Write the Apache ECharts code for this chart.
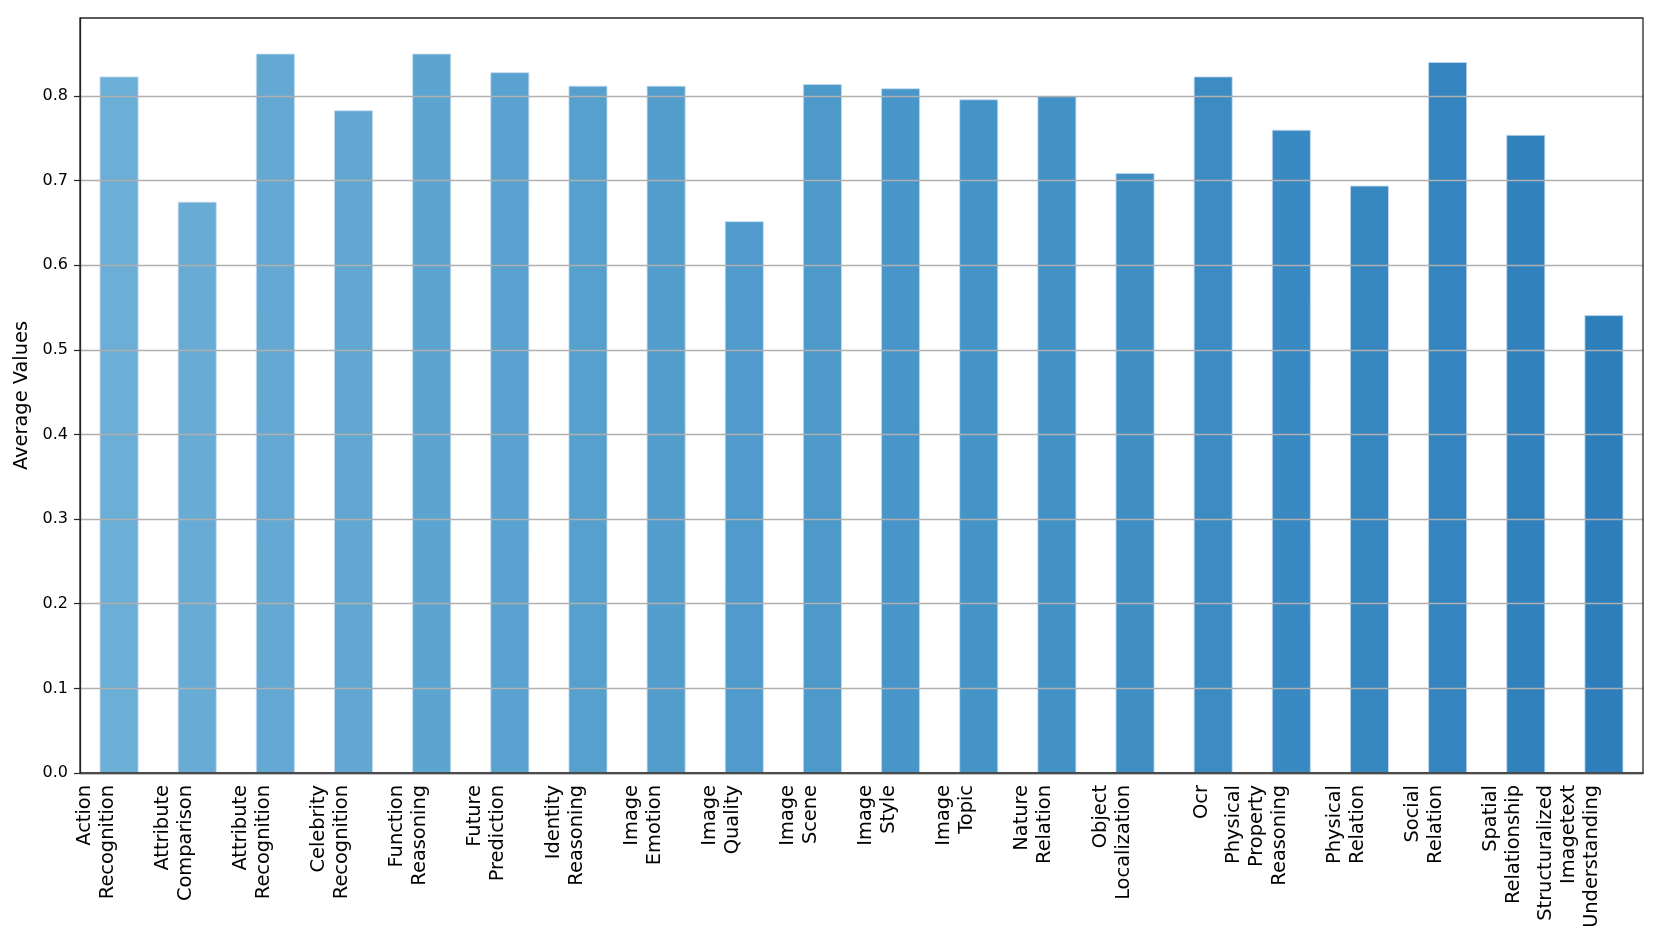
<!DOCTYPE html>
<html>
<head>
<meta charset="utf-8">
<title>Average Values</title>
<script src="https://cdn.jsdelivr.net/npm/echarts@6/dist/echarts.min.js"></script>
<style>
    html, body { margin: 0; padding: 0; background: #fff; }
    #echarts-bar-chart { width: 1661px; height: 949px; }
</style>
</head>
<body>
<div id="echarts-bar-chart"></div>
<script>
var categories = [
    'Action\nRecognition', 'Attribute\nComparison', 'Attribute\nRecognition', 'Celebrity\nRecognition',
    'Function\nReasoning', 'Future\nPrediction', 'Identity\nReasoning', 'Image\nEmotion',
    'Image\nQuality', 'Image\nScene', 'Image\nStyle', 'Image\nTopic',
    'Nature\nRelation', 'Object\nLocalization', 'Ocr', 'Physical\nProperty\nReasoning',
    'Physical\nRelation', 'Social\nRelation', 'Spatial\nRelationship', 'Structuralized\nImagetext\nUnderstanding'
];
var averageValues = [
    0.823, 0.675, 0.850, 0.783,
    0.850, 0.828, 0.812, 0.812,
    0.652, 0.814, 0.809, 0.796,
    0.800, 0.709, 0.823, 0.760,
    0.694, 0.840, 0.754, 0.541
];
var yTicks = [0.0, 0.1, 0.2, 0.3, 0.4, 0.5, 0.6, 0.7, 0.8];

// matplotlib "Blues" stops, sampled from 0.5 to 0.7
var bluesStops = ['#f7fbff', '#deebf7', '#c6dbef', '#9ecae1', '#6baed6', '#4292c6', '#2171b5', '#08519c', '#08306b'];
function blues(t) {
    var p = t * 8, i = Math.min(7, Math.floor(p)), f = p - i;
    var a = bluesStops[i], b = bluesStops[i + 1], out = '#';
    for (var k = 1; k < 7; k += 2) {
        var ca = parseInt(a.substr(k, 2), 16), cb = parseInt(b.substr(k, 2), 16);
        var c = Math.round(ca + (cb - ca) * f).toString(16);
        out += c.length < 2 ? '0' + c : c;
    }
    return out;
}

var barData = averageValues.map(function (v, i) {
    return {
        value: v,
        itemStyle: { color: blues(0.5 + 0.2 * i / (averageValues.length - 1)) }
    };
});

var barChart = echarts.init(document.getElementById('echarts-bar-chart'));
var baroption = {
    animation: false,
    textStyle: { fontFamily: 'DejaVu Sans' },
    grid: {
        left: 80,
        right: 18,
        top: 18,
        bottom: 176,
        show: true,
        borderColor: '#262626',
        borderWidth: 1.3,
        z: 10
    },
    xAxis: {
        type: 'category',
        data: categories,
        axisLine: { lineStyle: { color: '#262626', width: 1.3 } },
        axisTick: { alignWithLabel: true, length: 6, lineStyle: { color: '#262626', width: 1.2 } },
        axisLabel: {
            interval: 0,
            rotate: 90,
            margin: 12,
            align: 'right',
            verticalAlign: 'bottom',
            fontSize: 19.4,
            lineHeight: 23,
            color: '#000',
            fontFamily: 'DejaVu Sans'
        }
    },
    yAxis: {
        type: 'value',
        min: 0,
        max: 0.892,
        interval: 0.1,
        z: 5,
        name: 'Average Values',
        nameLocation: 'middle',
        nameGap: 46,
        nameTextStyle: { fontSize: 19.4, color: '#000', fontFamily: 'DejaVu Sans' },
        axisLine: { show: true, lineStyle: { color: '#262626', width: 1.3 } },
        axisTick: {
            show: true,
            length: 6,
            customValues: yTicks,
            lineStyle: { color: '#262626', width: 1.2 }
        },
        axisLabel: {
            margin: 12,
            fontSize: 16,
            color: '#000',
            fontFamily: 'DejaVu Sans',
            customValues: yTicks,
            formatter: function (v) {
                return v.toFixed(1);
            }
        },
        splitLine: { show: true, lineStyle: { color: '#b0b0b0', width: 1.3 } }
    },
    series: [
        {
            name: 'Average Values',
            type: 'bar',
            barWidth: '50%',
            data: barData,
            itemStyle: { borderColor: 'rgba(198,219,239,0.8)', borderWidth: 1 }
        }
    ]
};
barChart.setOption(baroption);
window.onresize = barChart.resize;
</script>
</body>
</html>
